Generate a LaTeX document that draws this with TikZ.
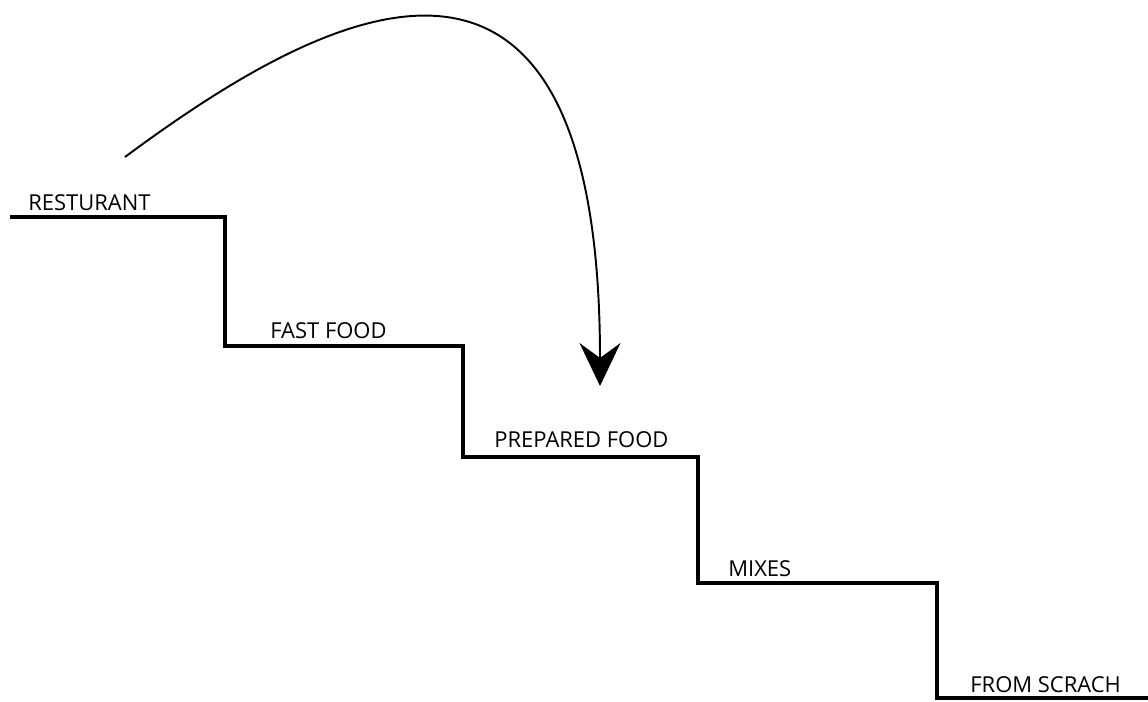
\documentclass[tikz,border=0pt]{standalone}
\usepackage{fontspec}
\setmainfont{Open Sans}
\usetikzlibrary{arrows.meta}
\begin{document}
\begin{tikzpicture}[x=0.02cm, y=-0.02cm,
    stair/.style={line width=2.3pt, line join=miter},
    steplabel/.style={anchor=base west, inner sep=0pt, font=\fontsize{12.5}{14}\selectfont}]

    \useasboundingbox (0,0) rectangle (1148,702);
    % define coordinates for the steps
    \coordinate (S0) at (10,217);
    \coordinate (S1) at (225,346);
    \coordinate (S2) at (463,457);
    \coordinate (S3) at (698,583);
    \coordinate (S4) at (937,698);
    \coordinate (S5) at (1148,698);

    % draw the stairs
    \draw[stair] (S0) -| (S1) -| (S2) -| (S3) -| (S4) -- (S5);

    % draw the labels
    \node[steplabel] (rest) at (28,211) {RESTURANT};
    \node[steplabel] (fast) at (270,338) {FAST FOOD};
    \node[steplabel] (prep) at (494,447) {PREPARED FOOD};
    \node[steplabel] (mix) at (728,576) {MIXES};
    \node[steplabel] (scratch) at (970,692) {FROM SCRACH};

    % draw the jump arrow
    \coordinate (from) at (125,157);
    \coordinate (to) at (600,386);
    \draw[line width=1.1pt, -{Stealth[length=0.86cm, width=0.82cm, inset=0.3cm]}]
      (from) .. controls (310,20) and (600,-150) .. (to);
  \end{tikzpicture}
\end{document}
